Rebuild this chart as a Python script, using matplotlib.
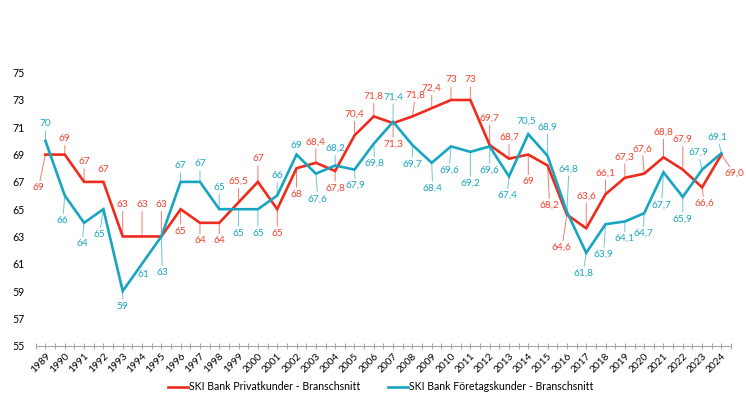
import matplotlib
matplotlib.use("Agg")
import matplotlib.pyplot as plt
from matplotlib.ticker import FixedLocator

plt.rcParams["font.family"] = ["Lato", "DejaVu Sans"]

years = list(range(1989, 2025))
privat = [69, 69, 67, 67, 63, 63, 63, 65, 64, 64, 65.5, 67, 65, 68, 68.4, 67.8, 70.4, 71.8,
          71.3, 71.8, 72.4, 73, 73, 69.7, 68.7, 69, 68.2, 64.6, 63.6, 66.1, 67.3, 67.6, 68.8,
          67.9, 66.6, 69.0]
foretag = [70, 66, 64, 65, 59, 61, 63, 67, 67, 65, 65, 65, 66, 69, 67.6, 68.2, 67.9, 69.8,
           71.4, 69.7, 68.4, 69.6, 69.2, 69.6, 67.4, 70.5, 68.9, 64.8, 61.8, 63.9, 64.1, 64.7,
           67.7, 65.9, 67.9, 69.1]
privat_labels = ["69", "69", "67", "67", "63", "63", "63", "65", "64", "64", "65,5", "67", "65",
                 "68", "68,4", "67,8", "70,4", "71,8", "71,3", "71,8", "72,4", "73", "73", "69,7",
                 "68,7", "69", "68,2", "64,6", "63,6", "66,1", "67,3", "67,6", "68,8", "67,9",
                 "66,6", "69,0"]
foretag_labels = ["70", "66", "64", "65", "59", "61", "63", "67", "67", "65", "65", "65", "66",
                  "69", "67,6", "68,2", "67,9", "69,8", "71,4", "69,7", "68,4", "69,6", "69,2",
                  "69,6", "67,4", "70,5", "68,9", "64,8", "61,8", "63,9", "64,1", "64,7", "67,7",
                  "65,9", "67,9", "69,1"]
series_names = ["SKI Bank Privatkunder - Branschsnitt", "SKI Bank Företagskunder - Branschsnitt"]

# label offsets in pixels (dx, dy; dy > 0 = below the point)
privat_dx = [-7, 0, 0, 0, 0, 0, 0, 0, 0, 0, 0, 0, 0, 0, 0, 0, 0, 0,
             0, 3, 0, 0, 0, 0, 0, 0, 2, -5, 0, 0, 0, -2, 0, 0, 2, 13]
privat_dy = [33, -16, -20, -12, -32, -32, -32, 22, 18, 18, -21, -23, 24, 26, -21, 17, -21, -20,
             21, -21, -20, -20, -20, -27, -21, 27, 40, 33, -32, -21, -21, -25, -25, -30, 16, 19]
foretag_dx = [0, -2, -2, -4, 0, 1, 1, 0, 0, 0, 0, 0, 0, 0, 2, 0, 1, 1,
              0, 0, 1, -2, 0, 0, -2, -2, 0, 2, -3, -2, 0, -1, -2, 0, -4, -4]
foretag_dy = [-17, 25, 21, 25, 15, 11, 36, -16, -18, -22, 24, 24, -20, -9, 25, -17, 16, 20,
              -25, 19, 25, 24, 31, 24, 19, -13, -29, -43, 20, 30, 17, 20, 33, 22, -17, -16]

RED = "#EE2B1C"
BLUE = "#17A5C1"
RED_LBL = "#F0432F"
BLUE_LBL = "#1AA7C3"

fig = plt.figure(figsize=(7.46, 4.19), dpi=100)
ax = fig.add_axes([0.048, 0.175, 0.932, 0.6515])
x = list(range(len(years)))

ax.plot(x, privat, color=RED, lw=1.9, solid_joinstyle="miter", zorder=3)
ax.plot(x, foretag, color=BLUE, lw=1.9, solid_joinstyle="miter", zorder=3)


def add_labels(vals, labels, dxs, dys, lcolor, tcolor):
    for i, v in enumerate(vals):
        dx, dy = dxs[i], dys[i]
        ax.annotate(labels[i], xy=(i, v), xytext=(dx, -dy), textcoords="offset pixels",
                    ha="center", va="center", fontsize=7.3, color=tcolor, zorder=4)
        if abs(dy) > 14:
            f = 1 - 7.0 / abs(dy)
            ax.annotate("", xy=(i, v), xytext=(dx * f, -dy * f), textcoords="offset pixels",
                        arrowprops=dict(arrowstyle="-", color=lcolor, lw=0.7,
                                        shrinkA=0, shrinkB=0), zorder=2)


add_labels(privat, privat_labels, privat_dx, privat_dy, "#F27A6E", RED_LBL)
add_labels(foretag, foretag_labels, foretag_dx, foretag_dy, "#6CC6D8", BLUE_LBL)

ax.set_xlim(-0.5, len(years) - 0.5)
ax.set_ylim(55, 75)
ax.set_yticks(range(55, 76, 2))
ax.set_xticks(x)
ax.set_xticklabels([str(y) for y in years], rotation=45, ha="right",
                   rotation_mode="anchor", fontsize=7.3)
ax.xaxis.set_minor_locator(FixedLocator([i - 0.5 for i in range(len(years) + 1)]))
ax.tick_params(axis="x", which="both", direction="inout", length=4, width=0.7,
               color="#A6A6A6", pad=2)
ax.tick_params(axis="y", length=0, labelsize=7.6, pad=8)
for s in ["top", "right", "left"]:
    ax.spines[s].set_visible(False)
ax.spines["bottom"].set_color("#A6A6A6")
ax.spines["bottom"].set_linewidth(0.8)

handles = [plt.Line2D([], [], color=RED, lw=1.9), plt.Line2D([], [], color=BLUE, lw=1.9)]
fig.legend(handles, series_names, loc="center", bbox_to_anchor=(0.51, 0.077), ncol=2,
           frameon=False, fontsize=7.6, handlelength=1.9, handletextpad=0.1,
           columnspacing=2.6)

fig.savefig("out.png", dpi=100)
